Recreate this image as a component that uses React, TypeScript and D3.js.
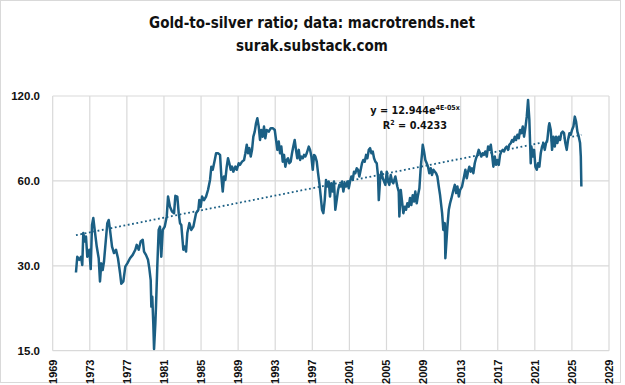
import React from "react";
import * as d3 from "d3";

// [year, gold-to-silver ratio]
const data1970s: [number, number][] = [
  [1971.51,28.4],[1971.65,32.3],[1971.87,31.5],[1972.05,32.3],[1972.19,30.2],[1972.30,39.2],[1972.45,36.6],[1972.59,38.1],[1972.73,32.3],[1972.95,34.2],
  [1973.10,29.2],[1973.24,41.9],[1973.38,44.3],[1973.53,40.2],[1973.75,35.1],[1973.96,31.9],[1974.10,26.4],[1974.24,30.6],[1974.39,29.0],[1974.53,31.0],
  [1974.67,35.1],[1974.89,42.5],[1975.04,43.6],[1975.18,40.2],[1975.40,35.1],[1975.61,33.3],[1975.83,34.2],[1976.04,31.9],[1976.26,28.3],[1976.40,25.9],
  [1976.62,26.4],[1976.83,29.8],[1977.05,30.6],[1977.34,31.9],[1977.63,32.8],[1977.91,34.2],[1978.06,35.6],[1978.28,34.2],[1978.49,36.6],[1978.71,37.1],
  [1978.85,33.7],[1979.06,32.8],[1979.28,31.5],[1979.42,29.4],[1979.57,26.7],[1979.64,21.5],[1979.74,23.3],[1979.85,18.7],[1979.93,15.2],
];
const data1980s: [number, number][] = [
  [1980.07,18.7],[1980.14,21.5],[1980.28,29.8],[1980.43,40.2],[1980.57,41.3],[1980.71,32.3],[1980.87,40.2],[1981.08,41.3],[1981.30,44.9],[1981.44,52.8],
  [1981.65,48.6],[1981.87,46.7],[1982.09,46.1],[1982.23,53.1],[1982.44,52.8],[1982.59,46.1],[1982.73,42.5],[1982.87,41.9],[1983.09,34.2],[1983.24,35.1],
  [1983.38,33.7],[1983.52,39.2],[1983.74,42.5],[1983.95,40.2],[1984.17,41.3],[1984.46,46.1],[1984.71,47.4],[1984.81,51.3],[1984.96,48.6],[1985.11,52.8],
  [1985.32,51.3],[1985.54,52.8],[1985.75,55.7],[1985.97,60.5],[1986.11,67.4],[1986.26,65.7],[1986.48,71.2],[1986.62,75.2],[1986.83,75.2],[1987.05,74.2],
  [1987.19,62.2],[1987.34,55.0],[1987.48,62.2],[1987.62,60.5],[1987.77,67.4],[1987.91,72.2],[1988.05,69.3],[1988.20,65.7],[1988.34,67.4],[1988.48,64.7],
  [1988.70,67.4],[1988.85,65.7],[1989.06,69.3],[1989.20,68.4],[1989.42,70.2],[1989.64,71.2],[1989.78,75.2],[1989.93,80.6],
];
const data1990s: [number, number][] = [
  [1990.07,75.2],[1990.21,78.4],[1990.36,73.2],[1990.50,77.3],[1990.64,86.1],[1990.79,89.7],[1990.93,96.1],[1991.07,100.1],[1991.22,93.5],[1991.36,83.8],
  [1991.50,90.9],[1991.65,86.1],[1991.79,93.5],[1991.93,85.0],[1992.08,90.9],[1992.30,89.7],[1992.52,92.3],[1992.73,92.3],[1992.95,90.9],[1993.09,83.8],
  [1993.23,77.3],[1993.38,82.7],[1993.52,75.2],[1993.66,79.4],[1993.81,70.2],[1993.95,74.2],[1994.09,67.4],[1994.24,71.2],[1994.38,72.2],[1994.52,69.3],
  [1994.67,70.2],[1994.81,75.2],[1994.95,79.4],[1995.10,83.8],[1995.24,77.3],[1995.38,72.2],[1995.54,77.3],[1995.68,71.2],[1995.82,73.2],[1995.97,72.2],
  [1996.11,74.2],[1996.25,73.2],[1996.40,75.2],[1996.62,79.4],[1996.76,77.3],[1996.90,73.2],[1997.05,65.7],[1997.19,74.2],[1997.33,73.2],[1997.48,70.2],
  [1997.62,63.9],[1997.76,58.9],[1997.91,52.8],[1998.05,47.4],[1998.19,46.1],[1998.34,51.3],[1998.48,60.5],[1998.62,57.3],[1998.77,59.7],[1998.91,52.8],
  [1999.05,58.9],[1999.20,55.0],[1999.34,59.7],[1999.48,47.4],[1999.63,51.3],[1999.78,55.7],[1999.92,58.1],
];
const data2000s: [number, number][] = [
  [2000.07,57.3],[2000.21,59.7],[2000.35,55.0],[2000.50,58.9],[2000.64,57.3],[2000.78,59.7],[2000.93,56.5],[2001.07,59.7],[2001.21,62.2],[2001.36,60.5],
  [2001.50,64.7],[2001.64,63.9],[2001.79,66.5],[2001.93,65.7],[2002.07,62.2],[2002.22,65.7],[2002.36,69.3],[2002.50,71.2],[2002.65,70.2],[2002.80,74.2],
  [2002.94,72.2],[2003.09,77.3],[2003.23,78.4],[2003.37,75.2],[2003.52,76.3],[2003.66,72.2],[2003.80,70.2],[2003.95,69.3],[2004.09,62.2],[2004.17,51.3],
  [2004.31,60.5],[2004.45,64.7],[2004.60,61.3],[2004.74,59.7],[2004.88,58.1],[2005.03,64.7],[2005.17,59.7],[2005.31,58.1],[2005.46,63.0],[2005.60,59.7],
  [2005.74,58.9],[2005.96,62.2],[2006.17,57.3],[2006.32,55.0],[2006.39,44.9],[2006.54,55.7],[2006.68,50.7],[2006.82,46.1],[2006.97,48.6],[2007.11,47.4],
  [2007.25,50.0],[2007.40,48.6],[2007.54,52.2],[2007.68,49.3],[2007.83,53.4],[2007.97,50.7],[2008.11,55.0],[2008.26,50.0],[2008.40,53.4],[2008.55,56.5],
  [2008.70,67.4],[2008.84,75.2],[2008.91,80.6],[2009.05,76.3],[2009.19,71.2],[2009.34,69.3],[2009.48,67.4],[2009.62,63.9],[2009.77,66.5],[2009.91,63.0],
];
const data2010s: [number, number][] = [
  [2010.06,65.7],[2010.21,64.7],[2010.35,63.9],[2010.49,62.2],[2010.64,57.3],[2010.78,53.4],[2010.92,48.6],[2011.00,46.1],[2011.13,40.2],[2011.29,42.5],
  [2011.35,31.9],[2011.43,35.1],[2011.57,41.3],[2011.72,47.4],[2011.86,50.0],[2012.00,52.0],[2012.22,55.7],[2012.37,58.1],[2012.51,54.3],[2012.65,57.3],
  [2012.80,52.8],[2012.94,55.7],[2013.15,57.3],[2013.37,62.2],[2013.51,65.7],[2013.66,61.3],[2013.80,64.7],[2013.94,67.4],[2014.09,64.7],[2014.23,66.5],
  [2014.37,63.9],[2014.52,69.3],[2014.66,72.2],[2014.80,74.2],[2014.95,77.3],[2015.09,75.2],[2015.23,73.2],[2015.38,75.2],[2015.52,74.2],[2015.66,76.3],
  [2015.82,73.2],[2015.96,79.4],[2016.10,77.3],[2016.25,80.6],[2016.39,74.2],[2016.53,67.4],[2016.68,73.2],[2016.82,68.4],[2016.96,71.2],[2017.11,68.4],
  [2017.25,74.2],[2017.39,76.3],[2017.54,77.3],[2017.68,76.3],[2017.82,78.4],[2017.97,79.4],[2018.11,77.3],[2018.25,80.6],[2018.41,81.7],[2018.55,83.8],
  [2018.69,82.7],[2018.84,86.1],[2018.98,83.8],[2019.12,87.4],[2019.27,85.0],[2019.41,90.9],[2019.55,88.6],[2019.70,93.5],[2019.84,86.1],[2019.98,92.3],
];
const data2020s: [number, number][] = [
  [2020.13,101.4],[2020.27,116.2],[2020.41,98.7],[2020.49,81.7],[2020.56,69.3],[2020.63,79.4],[2020.78,73.2],[2020.92,77.3],[2021.06,67.4],[2021.21,65.7],
  [2021.35,69.3],[2021.49,67.4],[2021.64,75.2],[2021.78,79.4],[2021.92,81.7],[2022.07,77.3],[2022.21,81.7],[2022.35,83.8],[2022.50,93.5],[2022.57,96.1],
  [2022.72,90.9],[2022.86,77.3],[2023.00,86.1],[2023.15,79.4],[2023.29,86.1],[2023.43,81.7],[2023.58,86.1],[2023.72,83.8],[2023.86,88.6],[2024.01,89.7],
  [2024.15,88.6],[2024.29,81.7],[2024.44,77.3],[2024.58,83.8],[2024.73,88.6],[2024.87,87.4],[2025.01,90.9],[2025.16,93.5],[2025.31,101.4],[2025.45,97.3],
  [2025.59,89.7],[2025.74,86.1],[2025.88,81.7],[2025.96,73.2],[2026.02,57.3],
];

const xTickYears = d3.range(1969, 2030, 4);
const yTickValues = [15, 30, 60, 120];
const titleLines = ["Gold-to-silver ratio; data: macrotrends.net", "surak.substack.com"];
const eqMain = "y = 12.944e";
const eqSup = "4E-05x";
const r2Text = "0.4233";

const W = 625, H = 385;
const plot = { left: 52.7, right: 609, top: 96, bottom: 350.7 };
const lineColor = "#1b5f84";
const gridColor = "#d9d9d9";
const narrowFont = "'Liberation Sans Narrow', 'Arial Narrow', 'DejaVu Sans Condensed', sans-serif";
const axisFont = "'Liberation Sans', Arial, sans-serif";

export default function App() {
  const data = [...data1970s, ...data1980s, ...data1990s, ...data2000s, ...data2010s, ...data2020s];
  const x = d3.scaleLinear().domain([1969, 2029]).range([plot.left, plot.right]);
  const y = d3.scaleLog().domain([15, 120]).range([plot.bottom, plot.top]);

  const line = d3.line<[number, number]>().x(d => x(d[0])).y(d => y(d[1]));

  // Exponential trendline (least squares on ln y vs Excel date serial)
  const serial = (yr: number) => (yr - 1900) * 365.25 + 1;
  const xs = data.map(d => serial(d[0]));
  const ls = data.map(d => Math.log(d[1]));
  const mx = d3.mean(xs)!, ml = d3.mean(ls)!;
  let sxy = 0, sxx = 0;
  xs.forEach((v, i) => { sxy += (v - mx) * (ls[i] - ml); sxx += (v - mx) ** 2; });
  const b = sxy / sxx;
  const a = Math.exp(ml - b * mx);
  const y0 = data[0][0], y1 = data[data.length - 1][0];
  const trendPts: [number, number][] = d3.range(0, 41).map(i => {
    const yr = y0 + (y1 - y0) * i / 40;
    return [yr, a * Math.exp(b * serial(yr))];
  });

  return (
    <svg width={W} height={H} style={{ position: "absolute", left: 0, top: 0, background: "#fff" }}>
      <rect x={0.5} y={0.5} width={620} height={382} fill="#fff" stroke="#d9d9d9" strokeWidth={1} />
      {titleLines.map((t, i) => (
        <text key={t} x={312} y={28 + i * 23} textAnchor="middle" fontFamily={narrowFont} fontWeight="bold" fontSize={15} fill="#111">{t}</text>
      ))}
      {/* gridlines */}
      {xTickYears.map(yr => (
        <line key={yr} x1={x(yr)} x2={x(yr)} y1={plot.top} y2={plot.bottom} stroke={gridColor} strokeWidth={1.2} />
      ))}
      {yTickValues.map(v => (
        <line key={v} x1={plot.left} x2={plot.right} y1={y(v)} y2={y(v)} stroke={gridColor} strokeWidth={1.2} />
      ))}
      {/* y labels */}
      {yTickValues.map(v => (
        <text key={v} x={40} y={y(v)} dy="0.35em" textAnchor="end" fontFamily={axisFont} fontWeight="bold" fontSize={11.5} fill="#111">{d3.format(".1f")(v)}</text>
      ))}
      {/* x labels */}
      {xTickYears.map(yr => (
        <text key={yr} transform={`translate(${x(yr)},${359.5}) rotate(-90)`} dy="0.35em" textAnchor="end" fontFamily={axisFont} fontWeight="bold" fontSize={11} fill="#111">{yr}</text>
      ))}
      <defs>
        <clipPath id="plotClip">
          <rect x={plot.left} y={plot.top - 2} width={plot.right - plot.left} height={plot.bottom - plot.top + 2} />
        </clipPath>
      </defs>
      <g clipPath="url(#plotClip)">
        <path d={line(data)!} fill="none" stroke={lineColor} strokeWidth={2.5} strokeLinejoin="round" />
        <path d={line(trendPts)!} fill="none" stroke={lineColor} strokeWidth={1.8} strokeDasharray="1.8 2.6" />
      </g>
      <text x={415} y={114} textAnchor="middle" fontFamily={narrowFont} fontWeight="bold" fontSize={10.8} fill="#111">
        {eqMain}<tspan fontSize={7} dy={-4.5}>{eqSup}</tspan>
      </text>
      <text x={415} y={129} textAnchor="middle" fontFamily={narrowFont} fontWeight="bold" fontSize={10.8} fill="#111">
        R<tspan fontSize={7} dy={-4.5}>2</tspan><tspan dy={4.5}>{` = ${r2Text}`}</tspan>
      </text>
    </svg>
  );
}
